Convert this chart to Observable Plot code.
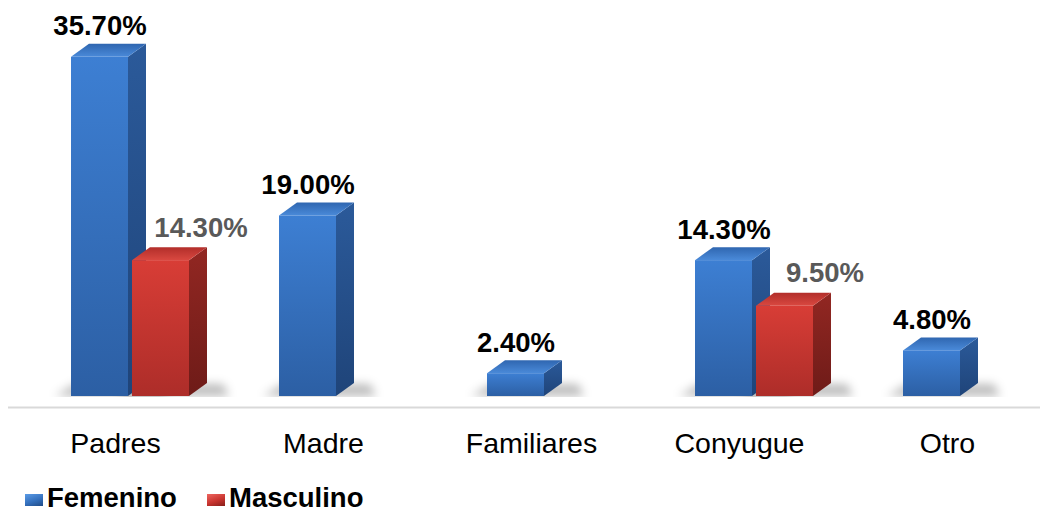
<!DOCTYPE html>
<html>
<head>
<meta charset="utf-8">
<script src="https://cdn.jsdelivr.net/npm/d3@7"></script>
<script src="https://cdn.jsdelivr.net/npm/@observablehq/plot@0.6"></script>
<style>
  body { margin: 0; background: #fff; font-family: "Liberation Sans", Arial, sans-serif; }
  #chart svg { display: block; }
  #legend { position: relative; width: 1040px; height: 41px; }
  #legend .item { position: absolute; top: 15px; display: flex; align-items: center; font-weight: bold; font-size: 27.5px; color: #000; line-height: 26px; }
  #legend .sw { width: 18px; height: 12px; margin-right: 4px; margin-top: 4px; }
</style>
</head>
<body>
<div id="chart"></div>
<div id="legend"></div>
<script>
// ---- data ----
const categories = ["Padres", "Madre", "Familiares", "Conyugue", "Otro"];
const femenino   = [35.7, 19.0, 2.4, 14.3, 4.8];
const masculino  = [14.3, null, null, 9.5, null];
const seriesNames = ["Femenino", "Masculino"];

const fem = categories.map((c, i) => ({category: c, value: femenino[i]}));
const mas = categories.map((c, i) => ({category: c, value: masculino[i]})).filter(d => d.value != null);
const fmt = v => v.toFixed(2) + "%";

const FONT = "Liberation Sans, Arial, sans-serif";
const INSET = 61;
const FEM_FILL = "#3470bd", MAS_FILL = "#c8342f";

const plot = Plot.plot({
  width: 1040,
  height: 470,
  marginLeft: 69,
  marginRight: 16,
  marginTop: 16,
  marginBottom: 74,
  style: {fontFamily: FONT, background: "white", overflow: "visible"},
  x: {domain: categories, axis: null, paddingInner: 0.4306, paddingOuter: 0},
  y: {domain: [0, 40], axis: null},
  marks: [
    Plot.ruleY([0], {stroke: "#d9d9d9", strokeWidth: 2, dy: 11, insetLeft: -61, insetRight: -16}),
    Plot.barY(fem, {x: "category", y: "value", fill: FEM_FILL, insetRight: INSET}),
    Plot.barY(mas, {x: "category", y: "value", fill: MAS_FILL, insetLeft: INSET}),
    Plot.text(fem, {x: "category", y: "value", text: d => fmt(d.value), dx: -30.5, dy: -22,
      lineAnchor: "bottom", fontSize: 27.5, fontWeight: "bold", fill: "#000", fontFamily: FONT}),
    Plot.text(mas, {x: "category", y: "value", text: d => fmt(d.value), dx: 70.5, dy: -24,
      lineAnchor: "bottom", fontSize: 27.5, fontWeight: "bold", fill: "#595959", fontFamily: FONT}),
    Plot.text(categories, {x: d => d, y: () => 0, text: d => d, dx: -15, dy: 56,
      lineAnchor: "bottom", fontSize: 28.5, fill: "#000", fontFamily: FONT})
  ]
});
document.getElementById("chart").append(plot);

// ---- 3D decoration derived from rendered bars ----
const svgNS = "http://www.w3.org/2000/svg";
const svg = d3.select(plot);
const defs = svg.insert("defs", ":first-child");
function grad(id, c1, c2, x2 = "0", y2 = "1") {
  const g = defs.append("linearGradient").attr("id", id).attr("x1", 0).attr("y1", 0).attr("x2", x2).attr("y2", y2);
  g.append("stop").attr("offset", "0%").attr("stop-color", c1);
  g.append("stop").attr("offset", "100%").attr("stop-color", c2);
}
grad("femFront", "#3d7fd3", "#2c5fa4");
grad("femSide", "#2b5a9a", "#1f4479");
grad("femTop", "#2f66b0", "#4a8ad9");
grad("masFront", "#d83d36", "#ad2d29");
grad("masSide", "#922722", "#6e1b18");
grad("masTop", "#b22e2a", "#d94840");
const blur = defs.append("filter").attr("id", "shBlur").attr("x", "-50%").attr("y", "-100%").attr("width", "200%").attr("height", "300%");
blur.append("feGaussianBlur").attr("stdDeviation", 5);

const DX = 18, DY = -13;
function barGroup(fill) {
  const rects = [...plot.querySelectorAll("rect")].filter(r => {
    const g = r.closest("g[fill]");
    return g && g.getAttribute("fill").toLowerCase() === fill;
  });
  return rects.length ? rects[0].parentNode : null;
}
const femG = barGroup(FEM_FILL), masG = barGroup(MAS_FILL);
const shadowG = document.createElementNS(svgNS, "g");
if (femG) femG.parentNode.insertBefore(shadowG, femG);
let floorY = 470;

function decorate(g, key) {
  if (!g) return;
  g.querySelectorAll("rect").forEach(r => {
    const x = +r.getAttribute("x"), y = +r.getAttribute("y");
    const w = +r.getAttribute("width"), h = +r.getAttribute("height");
    const b = y + h;
    floorY = b + 1;
    const sh = document.createElementNS(svgNS, "path");
    sh.setAttribute("d", `M${x - 16},${b} L${x + 4},${b - 12} L${x + w + DX + 16},${b - 12} L${x + w + DX + 22},${b} Z`);
    sh.setAttribute("fill", "#000");
    sh.setAttribute("fill-opacity", 0.26);
    sh.setAttribute("filter", "url(#shBlur)");
    shadowG.appendChild(sh);
    const side = document.createElementNS(svgNS, "polygon");
    side.setAttribute("points", `${x + w},${y} ${x + w + DX},${y + DY} ${x + w + DX},${b + DY} ${x + w},${b}`);
    side.setAttribute("fill", `url(#${key}Side)`);
    const top = document.createElementNS(svgNS, "polygon");
    top.setAttribute("points", `${x},${y} ${x + DX},${y + DY} ${x + w + DX},${y + DY} ${x + w},${y}`);
    top.setAttribute("fill", `url(#${key}Top)`);
    g.insertBefore(side, r);
    g.insertBefore(top, r);
    r.setAttribute("fill", `url(#${key}Front)`);
  });
}
decorate(femG, "fem");
decorate(masG, "mas");
defs.append("clipPath").attr("id", "floorClip").append("rect")
  .attr("x", 0).attr("y", 0).attr("width", 1040).attr("height", floorY);
shadowG.setAttribute("clip-path", "url(#floorClip)");

// ---- legend ----
const legend = d3.select("#legend");
const swatch = {Femenino: "linear-gradient(160deg,#5b9be6 0%,#3470bd 55%,#204b86 100%)",
                Masculino: "linear-gradient(160deg,#ee6660 0%,#c8342f 55%,#861f1b 100%)"};
const lefts = [25, 207];
seriesNames.forEach((s, i) => {
  const it = legend.append("div").attr("class", "item").style("left", lefts[i] + "px");
  it.append("div").attr("class", "sw").style("background", swatch[s]);
  it.append("span").text(s);
});
</script>
</body>
</html>
